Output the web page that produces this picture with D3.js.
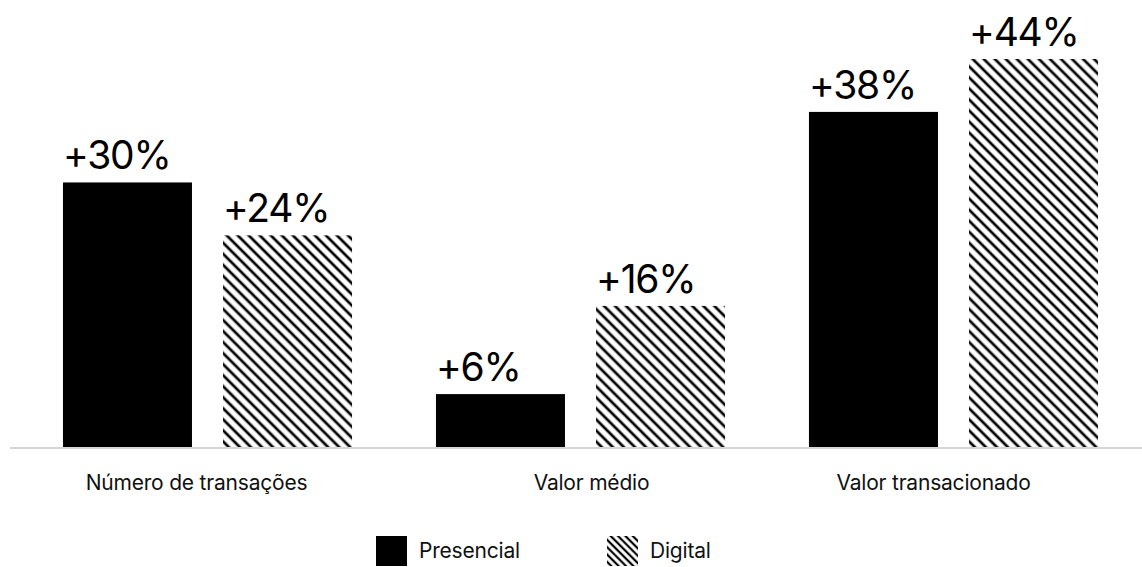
<!DOCTYPE html>
<html>
<head>
<meta charset="utf-8">
<script src="https://cdn.jsdelivr.net/npm/d3@7"></script>
<style>
  html, body { margin: 0; padding: 0; background: #fff; }
  svg { display: block; font-family: Inter, "Noto Sans", sans-serif; }
</style>
</head>
<body>
<svg id="chart" width="1142" height="567"></svg>
<script>
// Growth by metric, in-person vs. digital
const categories = ["Número de transações", "Valor médio", "Valor transacionado"];
const seriesNames = ["Presencial", "Digital"];
const presencial = [30, 6, 38];
const digital = [24, 16, 44];

const rows = categories.map((c, i) => ({ category: c, values: [presencial[i], digital[i]] }));

const svg = d3.select("#chart");
const W = 1142, H = 567;
const baseY = 447;

const x0 = d3.scaleBand()
  .domain(categories)
  .range([21, 1140])
  .paddingInner(0.225)
  .paddingOuter(0.1125);

const x1 = d3.scaleBand()
  .domain(seriesNames)
  .range([0, x0.bandwidth()])
  .paddingInner(0.194);

const y = d3.scaleLinear().domain([0, 44]).range([baseY, 59]);

// diagonal hatch fills
const defs = svg.append("defs");
function hatch(id, period, stroke) {
  const p = defs.append("pattern")
    .attr("id", id)
    .attr("patternUnits", "userSpaceOnUse")
    .attr("width", period)
    .attr("height", period)
    .attr("patternTransform", "rotate(-45)");
  p.append("rect").attr("width", period).attr("height", period).attr("fill", "#fff");
  p.append("line")
    .attr("x1", period / 2).attr("y1", 0)
    .attr("x2", period / 2).attr("y2", period)
    .attr("stroke", "#000")
    .attr("stroke-width", stroke);
}
hatch("hatch-bar", 7.8, 2.7);
hatch("hatch-key", 5.2, 2.2);

const fills = { "Presencial": "#000", "Digital": "url(#hatch-bar)" };
const keyFills = { "Presencial": "#000", "Digital": "url(#hatch-key)" };

const groups = svg.append("g").selectAll("g")
  .data(rows)
  .join("g")
  .attr("transform", d => `translate(${x0(d.category)},0)`);

const bars = groups.selectAll("g.bar")
  .data(d => d.values.map((v, i) => ({ series: seriesNames[i], value: v })))
  .join("g")
  .attr("class", "bar");

bars.append("rect")
  .attr("x", d => x1(d.series))
  .attr("y", d => y(d.value))
  .attr("width", x1.bandwidth())
  .attr("height", d => baseY - y(d.value))
  .attr("fill", d => fills[d.series]);

bars.append("text")
  .attr("x", d => x1(d.series))
  .attr("y", d => y(d.value) - 13)
  .attr("font-size", 39)
  .attr("letter-spacing", -1.2)
  .attr("fill", "#000")
  .text(d => `+${d.value}%`);

// baseline
svg.append("line")
  .attr("x1", 10).attr("x2", W)
  .attr("y1", baseY + 1).attr("y2", baseY + 1)
  .attr("stroke", "#d6d6d6")
  .attr("stroke-width", 2);

// category labels
const labelNudge = [-11, 11, -20];
svg.append("g").selectAll("text")
  .data(categories)
  .join("text")
  .attr("x", (d, i) => x0(d) + x0.bandwidth() / 2 + labelNudge[i])
  .attr("y", 490)
  .attr("text-anchor", "middle")
  .attr("font-size", 21)
  .attr("letter-spacing", -0.2)
  .attr("fill", "#111")
  .text(d => d);

// legend
const legendX = [376, 607];
const legend = svg.append("g").selectAll("g")
  .data(seriesNames)
  .join("g")
  .attr("transform", (d, i) => `translate(${legendX[i]},536)`);
legend.append("rect")
  .attr("width", 31).attr("height", 30)
  .attr("fill", d => keyFills[d]);
legend.append("text")
  .attr("x", 43).attr("y", 22)
  .attr("font-size", 21)
  .attr("letter-spacing", -0.2)
  .attr("fill", "#111")
  .text(d => d);
</script>
</body>
</html>
